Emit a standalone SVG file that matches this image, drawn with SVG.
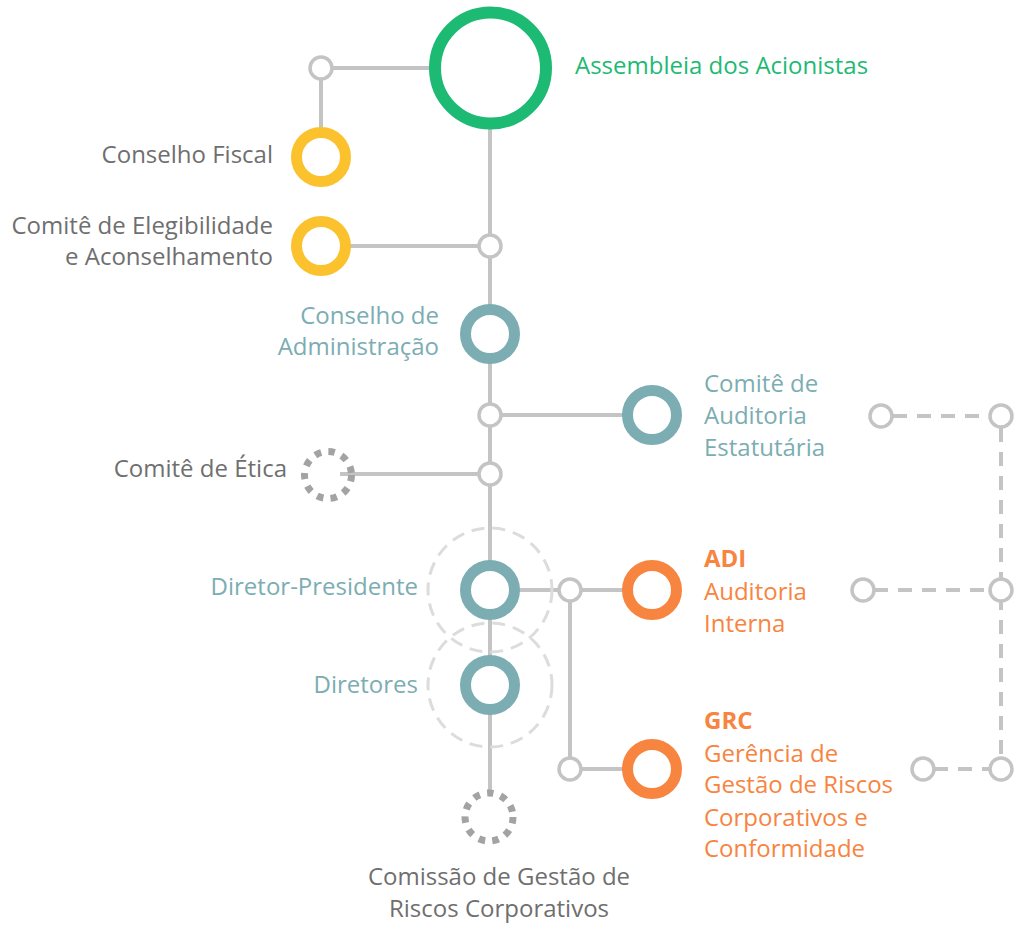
<svg xmlns="http://www.w3.org/2000/svg" width="1024" height="929" viewBox="0 0 1024 929">
<style>
text{font-family:"Open Sans","Noto Sans","Liberation Sans",sans-serif;font-size:24px}
.g{fill:#6f6f6f}.gr{fill:#1dba74}.t{fill:#7badb3}.o{fill:#f7843f}
.b{font-weight:700}
.end{text-anchor:end}.mid{text-anchor:middle}
.ln{stroke:#c4c4c4;stroke-width:4;fill:none}
.dl{stroke:#c4c4c4;stroke-width:4;fill:none;stroke-dasharray:14 10}
.sm{fill:#fff;stroke:#c4c4c4;stroke-width:3.5}
.ring{fill:#fff;stroke-width:11}
.dot{fill:none;stroke:#a3a3a3;stroke-width:7;stroke-dasharray:6.5 7.3}
.halo{fill:none;stroke:#dcdcdc;stroke-width:3;stroke-dasharray:13 8}
</style>
<g id="connectors">
<line class="ln" x1="490" y1="120" x2="490" y2="792"/>
<line class="ln" x1="321" y1="68" x2="440" y2="68"/>
<line class="ln" x1="321" y1="68" x2="321" y2="130"/>
<line class="ln" x1="340" y1="246" x2="490" y2="246"/>
<line class="ln" x1="490" y1="415" x2="640" y2="415"/>
<line class="ln" x1="340" y1="474" x2="490" y2="474"/>
<line class="ln" x1="490" y1="590" x2="640" y2="590"/>
<line class="ln" x1="570" y1="590" x2="570" y2="769"/>
<line class="ln" x1="570" y1="769" x2="640" y2="769"/>
<line class="dl" x1="893" y1="416" x2="1001" y2="416"/>
<line class="dl" x1="874" y1="590" x2="1001" y2="590"/>
<line class="dl" x1="934" y1="769" x2="1001" y2="769"/>
<line class="dl" x1="1001" y1="428" x2="1001" y2="757"/>
</g>
<g id="halos">
<circle class="halo" cx="490" cy="590" r="62"/>
<circle class="halo" cx="490" cy="685" r="62"/>
</g>
<g id="junctions">
<circle class="sm" cx="321" cy="68" r="11"/>
<circle class="sm" cx="490" cy="246" r="11"/>
<circle class="sm" cx="490" cy="415" r="11"/>
<circle class="sm" cx="490" cy="474" r="11"/>
<circle class="sm" cx="570" cy="590" r="11"/>
<circle class="sm" cx="570" cy="769" r="11"/>
<circle class="sm" cx="881" cy="416" r="11"/>
<circle class="sm" cx="1001" cy="416" r="11"/>
<circle class="sm" cx="863" cy="590" r="11"/>
<circle class="sm" cx="1001" cy="590" r="11"/>
<circle class="sm" cx="923" cy="769" r="11"/>
<circle class="sm" cx="1001" cy="769" r="11"/>
</g>
<g id="assembleia">
<circle cx="490.5" cy="68" r="55.5" fill="#fff" stroke="#1dba74" stroke-width="12"/>
<text class="gr" x="575" y="74">Assembleia dos Acionistas</text>
</g>
<g id="conselho-fiscal">
<circle class="ring" cx="321" cy="157" r="24.5" stroke="#fbc22d"/>
<text class="g end" x="273" y="163">Conselho Fiscal</text>
</g>
<g id="comite-elegibilidade">
<circle class="ring" cx="321" cy="246" r="24.5" stroke="#fbc22d"/>
<text class="g end" x="273" y="234">Comitê de Elegibilidade</text>
<text class="g end" x="273" y="265">e Aconselhamento</text>
</g>
<g id="conselho-administracao">
<circle class="ring" cx="490" cy="334" r="24.5" stroke="#7badb3"/>
<text class="t end" x="439" y="324">Conselho de</text>
<text class="t end" x="439" y="355">Administração</text>
</g>
<g id="comite-auditoria">
<circle class="ring" cx="652" cy="415" r="24.5" stroke="#7badb3"/>
<text class="t" x="704" y="392">Comitê de</text>
<text class="t" x="704" y="424">Auditoria</text>
<text class="t" x="704" y="456">Estatutária</text>
</g>
<g id="comite-etica">
<circle class="dot" cx="328" cy="475" r="23.5" fill="#fff"/>
<text class="g end" x="287" y="477">Comitê de Ética</text>
</g>
<g id="diretor-presidente">
<circle class="ring" cx="490" cy="590" r="24.5" stroke="#7badb3"/>
<text class="t end" x="418" y="595">Diretor-Presidente</text>
</g>
<g id="adi">
<circle class="ring" cx="652" cy="590" r="24.5" stroke="#f7843f"/>
<text class="o b" x="704" y="567">ADI</text>
<text class="o" x="704" y="600">Auditoria</text>
<text class="o" x="704" y="632">Interna</text>
</g>
<g id="diretores">
<circle class="ring" cx="490" cy="685" r="24.5" stroke="#7badb3"/>
<text class="t end" x="418" y="693">Diretores</text>
</g>
<g id="grc">
<circle class="ring" cx="652" cy="769" r="24.5" stroke="#f7843f"/>
<text class="o b" x="704" y="729">GRC</text>
<text class="o" x="704" y="762">Gerência de</text>
<text class="o" x="704" y="793">Gestão de Riscos</text>
<text class="o" x="704" y="826">Corporativos e</text>
<text class="o" x="704" y="857">Conformidade</text>
</g>
<g id="comissao">
<circle class="dot" cx="489" cy="817" r="24" fill="#fff"/>
<text class="g mid" x="499" y="885">Comissão de Gestão de</text>
<text class="g mid" x="499" y="917">Riscos Corporativos</text>
</g>
</svg>
